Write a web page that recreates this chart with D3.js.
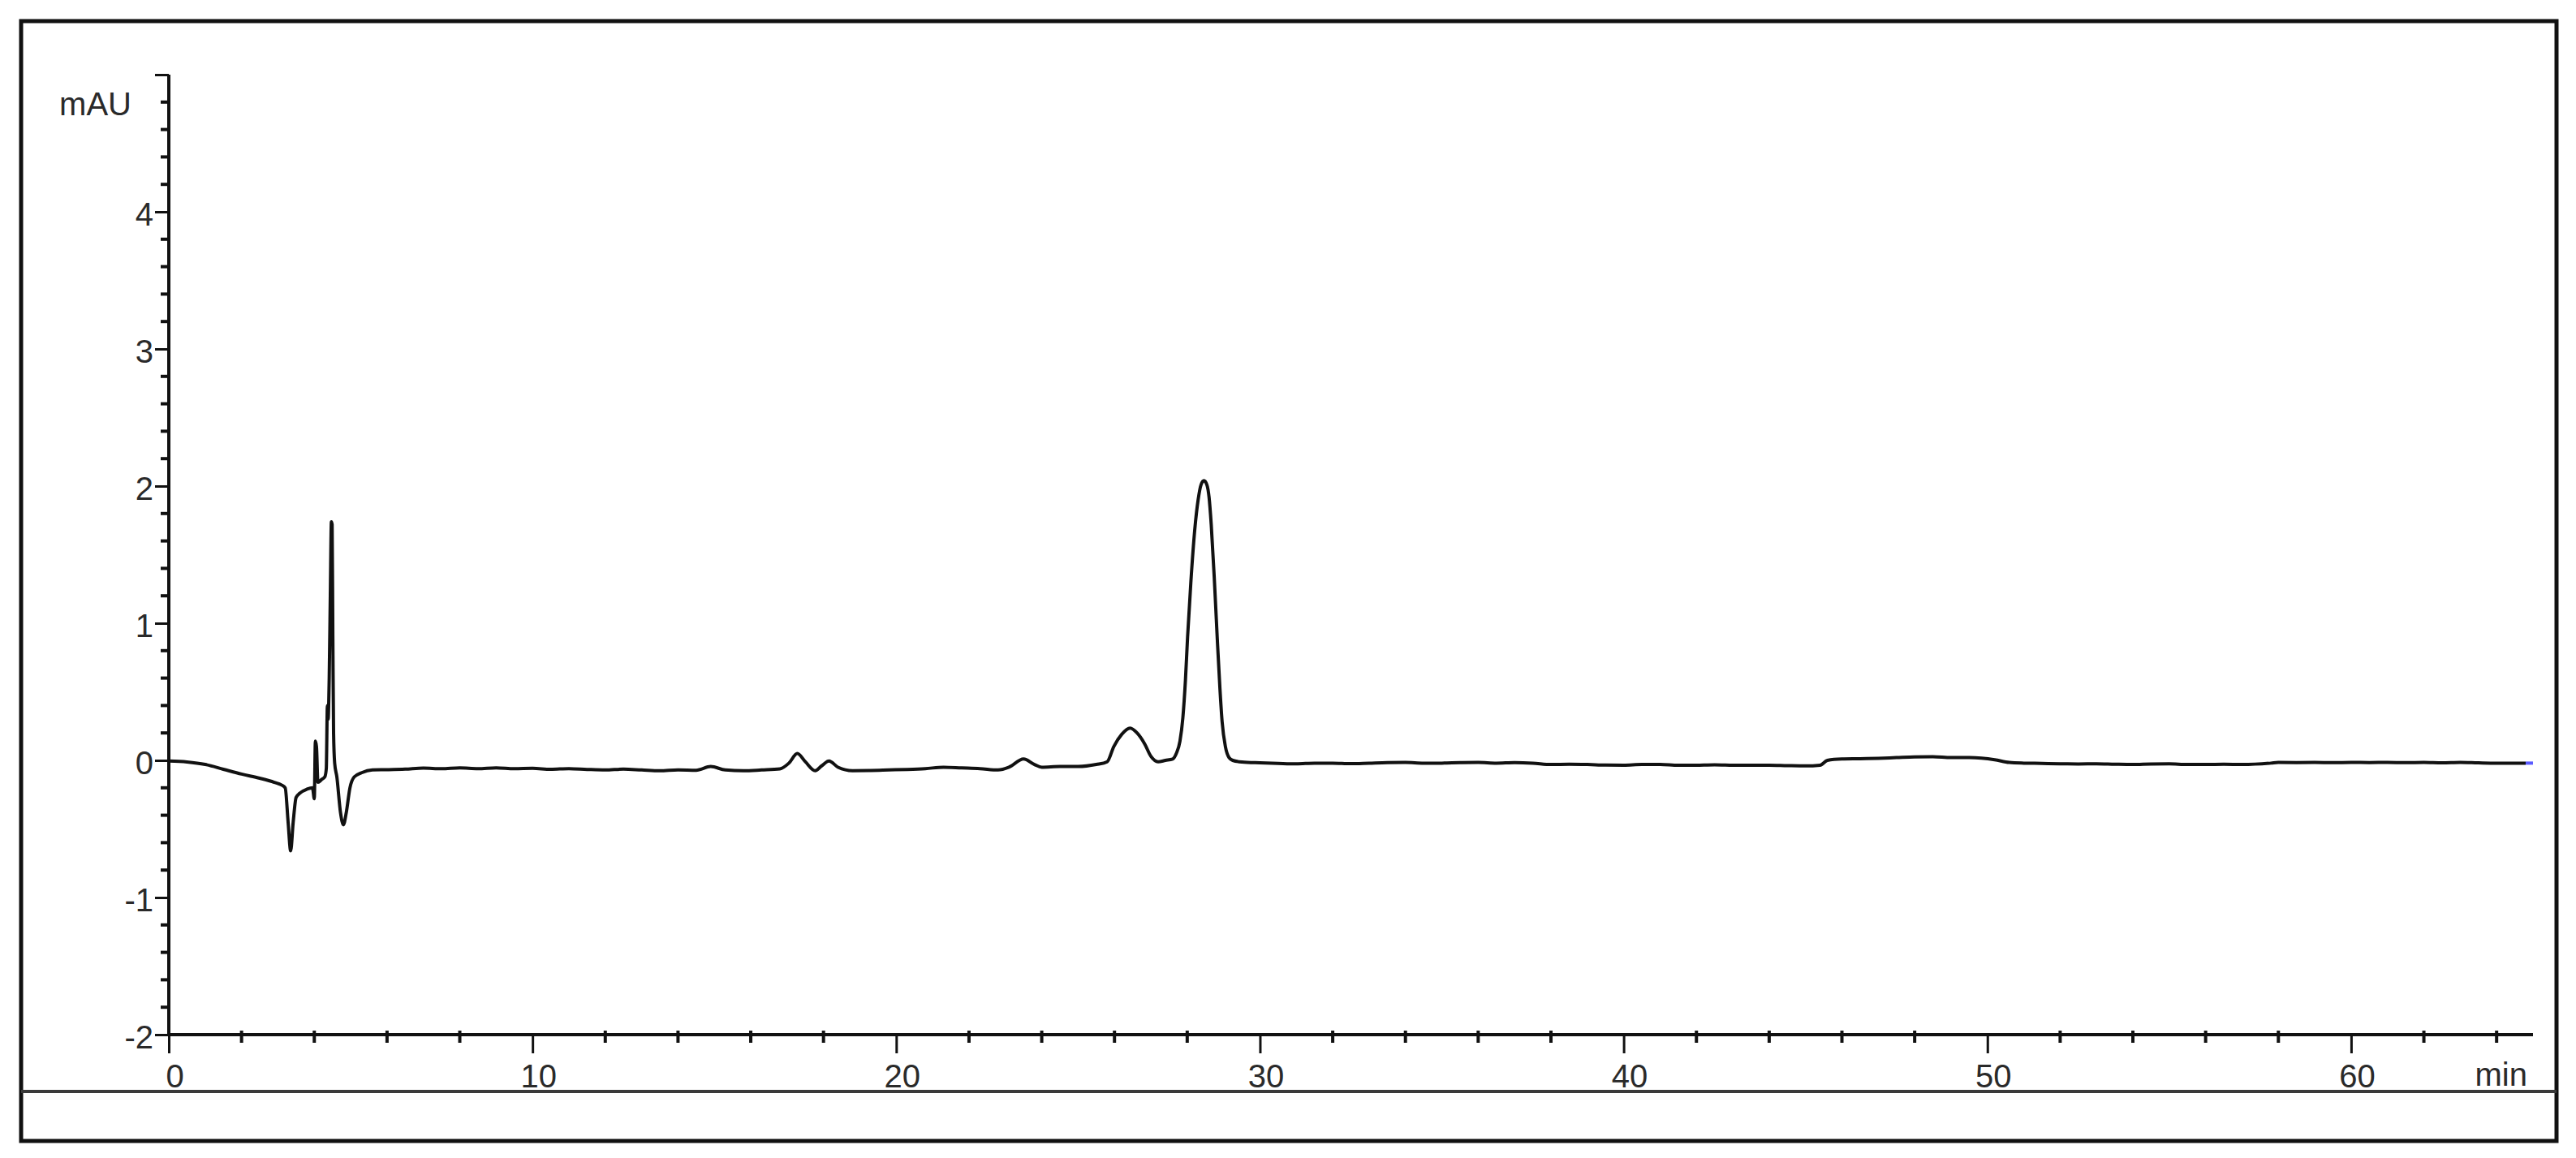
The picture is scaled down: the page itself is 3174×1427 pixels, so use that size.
<!DOCTYPE html>
<html>
<head>
<meta charset="utf-8">
<script src="https://cdn.jsdelivr.net/npm/d3@7/dist/d3.min.js"></script>
<style>
  html, body { margin: 0; padding: 0; background: #ffffff; }
  svg { display: block; }
  text { font-family: "Liberation Sans", Arial, sans-serif; fill: #2a2a2a; }
</style>
</head>
<body>
<svg id="chart" width="3174" height="1427"></svg>
<script>
// ---- data ----
const timeMin = [
  0.0, 0.5, 1.0, 1.5, 2.0, 2.5, 2.9, 3.1, 3.2, 3.28, 3.35, 3.42, 3.5, 3.6, 3.8, 3.95,
  4.0, 4.03, 4.06, 4.1, 4.2, 4.29, 4.33, 4.36, 4.38, 4.41, 4.44, 4.47, 4.49, 4.51, 4.53, 4.56,
  4.62, 4.72, 4.8, 4.88, 4.98, 5.1, 5.3, 5.6, 6.0, 6.5, 7.0, 7.5, 8.0, 8.5, 9.0, 9.5,
  10.0, 10.5, 11.0, 11.5, 12.0, 12.5, 13.0, 13.5, 14.0, 14.5, 14.9, 15.3, 15.8, 16.3,
  16.8, 17.05, 17.28, 17.5, 17.77, 17.95, 18.15, 18.4, 18.8, 19.3, 19.8, 20.3, 20.8,
  21.3, 21.8, 22.3, 22.8, 23.1, 23.5, 23.8, 24.0, 24.5, 25.0, 25.5, 25.8, 25.98, 26.2,
  26.43, 26.62, 26.83, 27.0, 27.2, 27.4, 27.6, 27.7, 27.8, 27.88, 27.95, 28.01, 28.1, 28.21,
  28.3, 28.38, 28.46, 28.54, 28.6, 28.66, 28.74, 28.82, 28.9, 28.96, 29.05, 29.15, 29.25,
  29.5, 30.0, 30.5, 31.0, 31.5, 32.0, 32.5, 33.0,
  33.5, 34.0, 34.5, 35.0, 35.5, 36.0, 36.5, 37.0, 37.5, 38.0, 38.5, 39.0, 39.5, 40.0,
  40.5, 41.0, 41.5, 42.0, 42.5, 43.0, 43.5, 44.0, 44.5, 45.0, 45.4, 45.6, 46.0, 46.5,
  47.0, 47.5, 48.0, 48.5, 49.0, 49.5, 50.2, 50.6, 51.0, 51.5, 52.0, 52.5, 53.0, 53.5,
  54.0, 54.5, 55.0, 55.5, 56.0, 56.5, 57.0, 57.8, 58.0, 58.5, 59.0, 59.5, 60.0, 60.5,
  61.0, 61.5, 62.0, 62.5, 63.0, 63.5, 64.0, 64.4, 64.8, 65.0
];
const absorbance = [
  -0.005, -0.012, -0.03, -0.065, -0.1, -0.13, -0.16, -0.18, -0.2, -0.45, -0.66, -0.45, -0.27, -0.24, -0.21, -0.2,
  -0.28, 0.14, 0.1, -0.16, -0.14, -0.12, -0.06, 0.4, 0.3, 0.6, 1.2, 1.74, 1.72, 0.9, 0.2, -0.02,
  -0.12, -0.38, -0.47, -0.38, -0.2, -0.12, -0.09, -0.07, -0.068, -0.064, -0.056, -0.061, -0.055, -0.06, -0.054, -0.06,
  -0.058, -0.065, -0.06, -0.066, -0.07, -0.064, -0.07, -0.076, -0.07, -0.072, -0.045, -0.07, -0.076, -0.07,
  -0.062, -0.02, 0.05, -0.01, -0.075, -0.04, -0.005, -0.05, -0.075, -0.074, -0.07, -0.066, -0.06,
  -0.05, -0.055, -0.06, -0.07, -0.05, 0.01, -0.03, -0.05, -0.045, -0.045, -0.03, -0.01, 0.1, 0.19,
  0.235, 0.2, 0.12, 0.03, -0.01, 0.0, 0.01, 0.05, 0.14, 0.31, 0.58, 0.9, 1.3, 1.69,
  1.9, 2.01, 2.04, 2.01, 1.92, 1.72, 1.35, 0.92, 0.52, 0.28, 0.1, 0.02, 0.0,
  -0.012, -0.018, -0.022, -0.025, -0.02, -0.02, -0.024, -0.02,
  -0.016, -0.015, -0.02, -0.02, -0.016, -0.015, -0.02, -0.016, -0.02, -0.03, -0.028, -0.03, -0.034, -0.035,
  -0.03, -0.03, -0.036, -0.035, -0.032, -0.035, -0.036, -0.035, -0.038, -0.04, -0.035, 0.0, 0.01, 0.012,
  0.015, 0.02, 0.025, 0.026, 0.02, 0.02, 0.005, -0.015, -0.02, -0.022, -0.025, -0.026, -0.025, -0.028,
  -0.03, -0.026, -0.025, -0.03, -0.03, -0.028, -0.03, -0.02, -0.015, -0.016, -0.015, -0.017, -0.015, -0.016,
  -0.015, -0.017, -0.015, -0.018, -0.015, -0.018, -0.02, -0.02, -0.02, -0.02
];
const xMajorTicks = [0, 10, 20, 30, 40, 50, 60];
const xTickLabels = ["0", "10", "20", "30", "40", "50", "60"];
const yMajorTicks = [-2, -1, 0, 1, 2, 3, 4];
const yTickLabels = ["-2", "-1", "0", "1", "2", "3", "4"];
const xUnit = "min";
const yUnit = "mAU";

// ---- layout ----
const svg = d3.select("#chart");
const x = d3.scaleLinear().domain([0, 65]).range([208, 3121]);
const y = d3.scaleLinear().domain([-2, 5]).range([1275, 92]);

// outer frame and footer divider
svg.append("rect").attr("x", 26).attr("y", 26).attr("width", 3124).attr("height", 1380)
  .attr("fill", "none").attr("stroke", "#111").attr("stroke-width", 5);
svg.append("line").attr("x1", 26).attr("x2", 3150).attr("y1", 1345).attr("y2", 1345)
  .attr("stroke", "#3a3a3a").attr("stroke-width", 4);

// y axis
const yAxis = d3.axisLeft(y).tickValues(yMajorTicks.concat([5]))
  .tickSize(17).tickPadding(2)
  .tickFormat(d => { const i = yMajorTicks.indexOf(d); return i >= 0 ? yTickLabels[i] : ""; });
const gy = svg.append("g").attr("transform", "translate(208,0)").call(yAxis);
gy.select(".domain").attr("stroke", "#111").attr("stroke-width", 4).attr("d", `M0,${y(5)}V${y(-2)}`);
gy.selectAll(".tick line").attr("stroke", "#111").attr("stroke-width", 3);
gy.selectAll(".tick text").attr("font-size", 40).attr("dy", "0.42em").attr("fill", "#2a2a2a")
  .attr("font-family", "'Liberation Sans', Arial, sans-serif");

// y minor ticks (every 0.2)
const yMinor = d3.range(-2, 5.0001, 0.2).filter(v => Math.abs(v - Math.round(v)) > 1e-6);
svg.append("g").selectAll("line").data(yMinor).join("line")
  .attr("x1", 198).attr("x2", 209).attr("y1", d => y(d)).attr("y2", d => y(d))
  .attr("stroke", "#111").attr("stroke-width", 4);

// x axis
const xAxis = d3.axisBottom(x).tickValues(xMajorTicks).tickSize(23).tickPadding(14)
  .tickFormat((d, i) => xTickLabels[i]);
const gx = svg.append("g").attr("transform", `translate(0,${y(-2)})`).call(xAxis);
gx.select(".domain").attr("stroke", "#111").attr("stroke-width", 4).attr("d", `M${x(0)},0H${x(65)}`);
gx.selectAll(".tick line").attr("stroke", "#111").attr("stroke-width", 3);
gx.selectAll(".tick text").attr("font-size", 40).attr("dx", 7).attr("fill", "#2a2a2a")
  .attr("font-family", "'Liberation Sans', Arial, sans-serif");

// x minor ticks (every 2 min)
const xMinor = d3.range(0, 65, 2).filter(v => v % 10 !== 0);
svg.append("g").selectAll("line").data(xMinor).join("line")
  .attr("x1", d => x(d)).attr("x2", d => x(d)).attr("y1", y(-2) - 5).attr("y2", y(-2) + 10)
  .attr("stroke", "#111").attr("stroke-width", 4);

// unit labels
svg.append("text").attr("x", 162).attr("y", 142).attr("text-anchor", "end")
  .attr("font-size", 40).text(yUnit);
svg.append("text").attr("x", 3114).attr("y", 1338).attr("text-anchor", "end")
  .attr("font-size", 40).text(xUnit);

// trace
const pts = timeMin.map((t, i) => [t, absorbance[i]]);
const line = d3.line().x(d => x(d[0])).y(d => y(d[1])).curve(d3.curveMonotoneX);
svg.append("path").datum(pts.slice(0, pts.length - 1)).attr("d", line)
  .attr("fill", "none").attr("stroke", "#111").attr("stroke-width", 4)
  .attr("stroke-linejoin", "round");
svg.append("path").datum(pts.slice(pts.length - 2)).attr("d", line)
  .attr("fill", "none").attr("stroke", "#5b5bff").attr("stroke-width", 4);
</script>
</body>
</html>
